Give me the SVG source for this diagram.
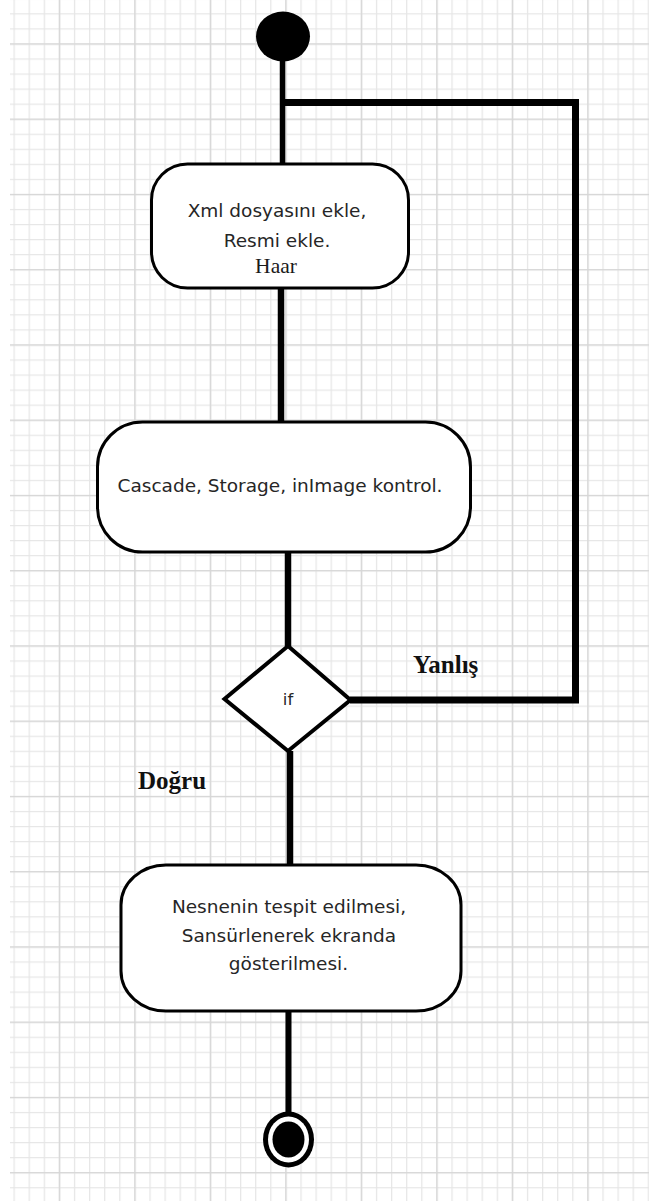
<svg xmlns="http://www.w3.org/2000/svg" width="649" height="1201" viewBox="0 0 649 1201">
  <style>
    .box { fill: #ffffff; stroke: #000000; stroke-width: 3; }
    .wire { stroke: #000000; fill: none; stroke-linecap: butt; }
    .lbl { font-family: "DejaVu Sans", Verdana, sans-serif; font-size: 18.5px; fill: #262626; text-anchor: middle; }
    .guard { font-family: "Liberation Serif", "Times New Roman", serif; font-weight: bold; font-size: 25px; fill: #111111; }
    .haar { font-family: "Liberation Serif", "Times New Roman", serif; font-size: 21.5px; fill: #1a1a1a; text-anchor: middle; }
  </style>
  <defs>
    <pattern id="minorGrid" patternUnits="userSpaceOnUse" x="13.5" y="13.3" width="15.1" height="15.05">
      <path d="M0.6 0 V15.05 M0 0.6 H15.1" stroke="#e6e6e6" stroke-width="1.3" fill="none"/>
    </pattern>
    <pattern id="majorGrid" patternUnits="userSpaceOnUse" x="58.8" y="43.4" width="75.5" height="75.25">
      <path d="M0.6 0 V75.25 M0 0.6 H75.5" stroke="#d6d6d6" stroke-width="1.4" fill="none"/>
    </pattern>
  </defs>

  <!-- paper -->
  <rect x="0" y="0" width="649" height="1201" fill="#ffffff"/>
  <rect x="10" y="0" width="639" height="1201" fill="url(#minorGrid)"/>
  <rect x="10" y="0" width="639" height="1201" fill="url(#majorGrid)"/>

  <!-- connectors -->
  <g id="connectors">
    <line class="wire" x1="282.5" y1="50" x2="282.5" y2="165" stroke-width="5.5"/>
    <polyline class="wire" points="282.5,102.5 575.5,102.5 575.5,700 350,700" stroke-width="7" stroke-linejoin="miter"/>
    <line class="wire" x1="281" y1="288" x2="281" y2="422" stroke-width="6.5"/>
    <line class="wire" x1="288" y1="552" x2="288" y2="646" stroke-width="6.5"/>
    <line class="wire" x1="290" y1="751" x2="290" y2="865" stroke-width="6.5"/>
    <line class="wire" x1="288.5" y1="1011" x2="288.5" y2="1113" stroke-width="6"/>
  </g>

  <!-- start node -->
  <g id="start">
    <ellipse cx="283" cy="36.5" rx="27" ry="25" fill="#000000"/>
  </g>

  <!-- first action -->
  <g id="action-load">
    <rect class="box" x="151.5" y="164" width="257" height="124" rx="36" ry="36"/>
    <text class="lbl" x="277" y="217">Xml dosyasını ekle,</text>
    <text class="lbl" x="277" y="247">Resmi ekle.</text>
    <text class="haar" x="276" y="273">Haar</text>
  </g>

  <!-- second action -->
  <g id="action-check">
    <rect class="box" x="97.5" y="422" width="373" height="130" rx="45" ry="45"/>
    <text class="lbl" x="280" y="492">Cascade, Storage, inImage kontrol.</text>
  </g>

  <!-- decision -->
  <g id="decision">
    <polygon points="288,646 350.5,700 288,751 224.5,699" fill="#ffffff" stroke="#000000" stroke-width="4" stroke-linejoin="miter"/>
    <text class="lbl" x="288" y="705" style="font-size:16.5px">if</text>
  </g>

  <!-- guard labels -->
  <g id="guards">
    <text class="guard" x="413" y="673">Yanlış</text>
    <text class="guard" x="138" y="789">Doğru</text>
  </g>

  <!-- third action -->
  <g id="action-show">
    <rect class="box" x="121" y="865" width="340" height="146" rx="45" ry="40"/>
    <text class="lbl" x="289" y="913">Nesnenin tespit edilmesi,</text>
    <text class="lbl" x="289" y="942">Sansürlenerek ekranda</text>
    <text class="lbl" x="288.5" y="970">gösterilmesi.</text>
  </g>

  <!-- final node -->
  <g id="end">
    <ellipse cx="288.5" cy="1139.5" rx="25.5" ry="28" fill="#000000"/>
    <ellipse cx="288.5" cy="1139.5" rx="20.5" ry="23" fill="#ffffff"/>
    <ellipse cx="288.5" cy="1139.5" rx="16" ry="18" fill="#000000"/>
  </g>
</svg>
